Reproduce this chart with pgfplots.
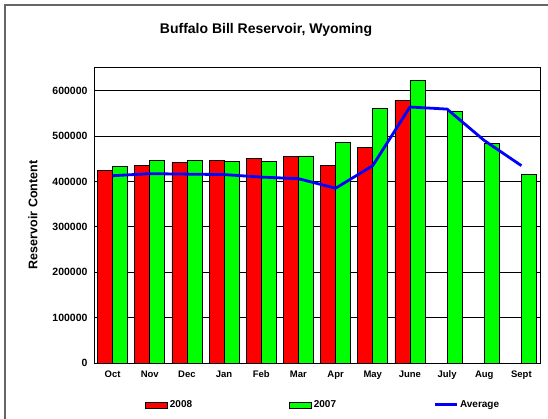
\documentclass[border=0pt]{standalone}
\usepackage{pgfplots}
\pgfplotsset{compat=1.18}
\usepackage{fontspec}
\setmainfont{Liberation Sans}
\definecolor{xred}{RGB}{255,0,0}
\definecolor{xgreen}{RGB}{0,255,0}
\definecolor{xblue}{RGB}{0,0,255}
\pgfplotsset{
  barlegend/.style={legend image code/.code={\draw[##1] (0pt,-3pt) rectangle (22pt,3pt);}},
  linelegend/.style={legend image code/.code={\draw[##1, line width=3pt] (0pt,0pt) -- (22pt,0pt);}},
}
\begin{document}
\begin{tikzpicture}[x=1pt,y=1pt]
\useasboundingbox (0,0) rectangle (548,-418);
\fill[white] (0,0) rectangle (548,-418);
\draw[line width=1.5pt, black!60] (5,-430) -- (5,-5) -- (560,-5);
\node[font=\bfseries\fontsize{14}{16}\selectfont] at (266,-30) {Buffalo Bill Reservoir, Wyoming};
\begin{axis}[
  at={(94pt,-363.3pt)}, anchor=south west,
  scale only axis, width=446pt, height=295.6pt,
  xmin=-0.5, xmax=11.5, ymin=0, ymax=650000,
  ybar=0pt, bar width=15pt,
  xtick={0,...,11},
  xticklabels={Oct,Nov,Dec,Jan,Feb,Mar,Apr,May,June,July,Aug,Sept},
  ytick={0,100000,...,600000},
  scaled y ticks=false,
  yticklabel={\pgfmathprintnumber[fixed,precision=0,1000 sep={},assume math mode=true]{\tick}},
  major tick length=0pt,
  xticklabel style={font=\bfseries\fontsize{9.5}{11}\selectfont, yshift=-4pt},
  yticklabel style={font=\bfseries\fontsize{10.5}{12}\selectfont, xshift=-3pt},
  ylabel={Reservoir Content},
  ylabel style={font=\bfseries\fontsize{12.5}{14}\selectfont, at={(axis description cs:-0.137,0.502)}, anchor=center},
  ymajorgrids, grid style={black, line width=0.8pt},
  axis line style={black, line width=0.8pt},
  legend columns=3,
  legend style={at={(0.1143,-0.141)}, anchor=west, draw=none, fill=none, inner sep=0pt,
    font=\bfseries\fontsize{10}{12}\selectfont,
    /tikz/every even column/.append style={column sep=95pt},
    cells={anchor=west}},
]
\addplot[fill=xred, draw=black, line width=0.7pt, barlegend] coordinates {
(0,424000) (1,436000) (2,441000) (3,446000) (4,451000) (5,454000) (6,436000) (7,475000) (8,578000)};
\addplot[fill=xgreen, draw=black, line width=0.7pt, barlegend] coordinates {
(0,433000) (1,446000) (2,446000) (3,443000) (4,443000) (5,456000) (6,485000) (7,560000) (8,622000) (9,555000) (10,483000) (11,415000)};
\addplot[sharp plot, xblue, line width=2.8pt, line join=round, linelegend] coordinates {
(0,412500) (1,417000) (2,416000) (3,415000) (4,409500) (5,406000) (6,385000) (7,434600) (8,563600) (9,559000) (10,490000) (11,434600)};
\legend{2008,2007,Average}
\end{axis}
\end{tikzpicture}
\end{document}
